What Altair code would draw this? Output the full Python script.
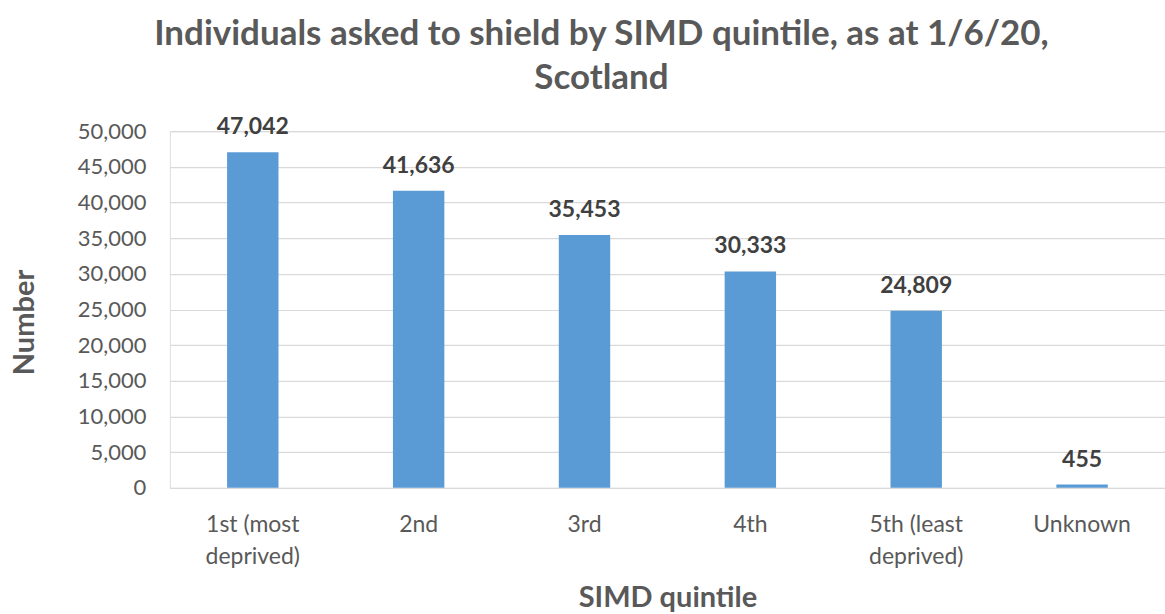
import altair as alt
import pandas as pd

categories = ["1st (most|deprived)", "2nd", "3rd", "4th", "5th (least|deprived)", "Unknown"]
values = [47042, 41636, 35453, 30333, 24809, 455]

df = pd.DataFrame({"cat": categories, "val": values})
df["lab"] = df["val"].map(lambda v: f"{v:,}")

FONT = "Lato"
GREY = "#595959"

x = alt.X("cat:N", sort=categories,
          scale=alt.Scale(paddingInner=0.69, paddingOuter=0.345),
          axis=alt.Axis(title="SIMD quintile", labelAngle=0,
                        labelExpr="split(datum.label, '|')",
                        labelFontSize=23, labelColor=GREY, labelFont=FONT,
                        labelPadding=26, labelLineHeight=32, labelBaseline="top",
                        titleFontSize=29, titleColor=GREY, titleFont=FONT,
                        titleFontWeight="bold", titlePadding=15,
                        domain=False, ticks=False, grid=False))
y = alt.Y("val:Q", scale=alt.Scale(domain=[0, 50000], nice=False),
          axis=alt.Axis(title="Number", values=list(range(0, 50001, 5000)),
                        format=",d", labelOverlap=False,
                        labelFontSize=22, labelColor=GREY, labelFont=FONT,
                        labelPadding=24, titleFontSize=29, titleColor=GREY,
                        titleFont=FONT, titleFontWeight="bold", titlePadding=38,
                        titleY=191,
                        domain=False, ticks=False, gridColor="#d9d9d9", gridWidth=1.2))

bars = alt.Chart(df).mark_bar(color="#5B9BD5").encode(x=x, y=y)
labels = alt.Chart(df).mark_text(dy=-13, fontSize=23, fontWeight="bold",
                                 color="#404040", font=FONT, baseline="bottom").encode(
    x=x, y=y, text="lab:N")

chart = alt.layer(bars, labels).properties(
    width=996, height=357,
    title=alt.Title(["Individuals asked to shield by SIMD quintile, as at 1/6/20,", "Scotland"],
                    fontSize=35, font=FONT, fontWeight="bold", color=GREY,
                    lineHeight=44, anchor="middle", dx=-66, offset=20),
    autosize=alt.AutoSizeParams(type="none"),
    padding={"left": 170, "top": 131, "right": 0, "bottom": 126},
).configure_view(strokeWidth=0, stroke="transparent").configure(background="white")

chart.save("out.html", embed_options={"renderer": "svg", "actions": False})
